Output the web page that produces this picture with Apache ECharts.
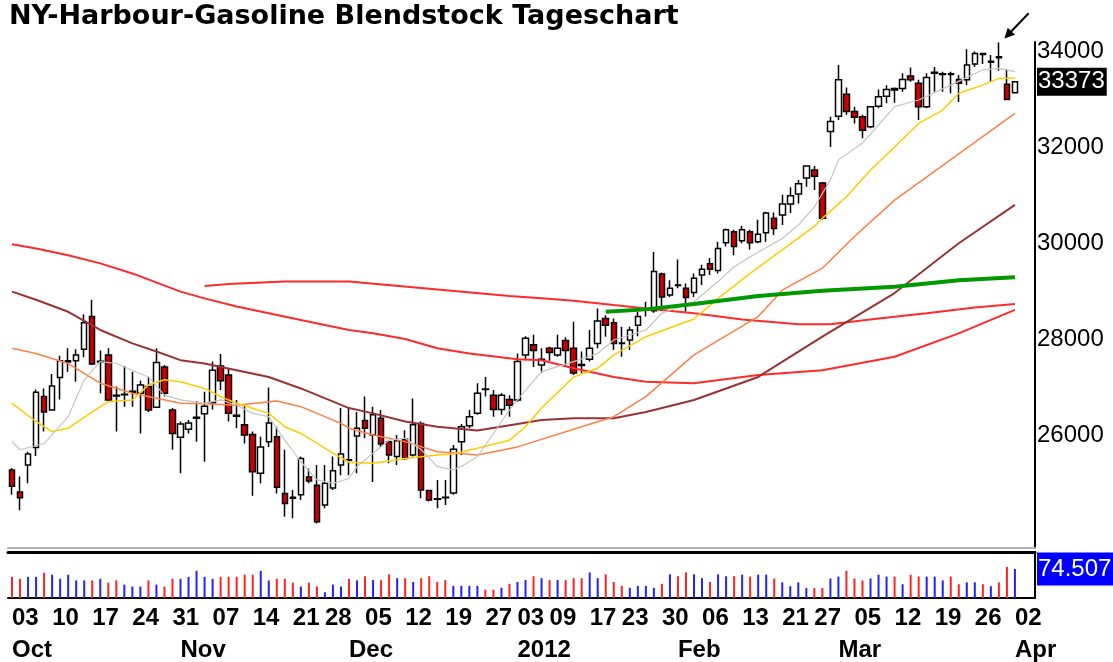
<!DOCTYPE html>
<html>
<head>
<meta charset="utf-8">
<script src="https://cdn.jsdelivr.net/npm/echarts@6/dist/echarts.min.js"></script>
<style>
  html, body { margin: 0; padding: 0; background: #fff; }
  #chart { width: 1113px; height: 662px; }
</style>
</head>
<body>
<div id="chart"></div>
<script>
// trading days: weekdays from first to last, minus exchange holidays (2 empty days pad the right edge)
const firstDay = '2011-10-03'
const lastDay = '2012-04-04'
const holidays = ['2011-11-24', '2011-12-26', '2012-01-02', '2012-01-16', '2012-02-20']
const monthNames = ['2012', 'Feb', 'Mar', 'Apr', 'May', 'Jun', 'Jul', 'Aug', 'Sep', 'Oct', 'Nov', 'Dec']

// daily candles
const opens = [
  25270, 24810, 25370, 25740, 26800, 26520, 27200, 27520, 27550, 27790,
  28470, 27520, 27670, 26830, 26840, 26890, 26870, 27010, 26580, 27420,
  26520, 25950, 26120, 26350, 26440, 26670, 27440, 27250, 26410, 26210,
  26010, 25200, 25860, 25960, 24780, 24700, 24750, 25120, 24950, 24540,
  24890, 25370, 25480, 25980, 26300, 26000, 26350, 25860, 25550, 25910,
  25580, 26240, 24840, 24670, 24700, 24790, 25860, 26190, 26450, 26960,
  26830, 26530, 26740, 26730, 27670, 27880, 27460, 27810, 27670, 27970,
  27810, 27470, 27580, 27910, 28430, 28340, 27920, 27980, 28290, 28610,
  28590, 29360, 28920, 29130, 29060, 28970, 29340, 29570, 29430, 30010,
  30240, 30050, 30240, 30030, 30220, 30520, 30590, 30820, 31030, 31360,
  31530, 31260, 32330, 32650, 33110, 32750, 32640, 32430, 32860, 33070,
  33230, 33230, 33490, 33340, 32850, 33550, 33520, 33540, 33420, 33410,
  33740, 33960, 33780, 33890, 33320, 33140
]
const closes = [
  24930, 24690, 25600, 26890, 26480, 27020, 27550, 27550, 27670, 28340,
  27480, 27540, 26730, 26810, 26850, 26910, 27040, 26520, 27510, 26870,
  26030, 26230, 26250, 26370, 26600, 27350, 27130, 26450, 26390, 26000,
  25230, 25750, 26250, 24910, 24570, 24680, 25510, 25040, 24190, 24990,
  25250, 25600, 25470, 26140, 26140, 26420, 25810, 25580, 25880, 25510,
  26210, 24850, 24640, 24660, 24690, 25700, 26170, 26380, 26870, 26950,
  26530, 26830, 26620, 27530, 28020, 27760, 27580, 27720, 27810, 27760,
  27290, 27450, 27810, 28380, 28290, 27910, 27910, 28190, 28470, 28630,
  29410, 28880, 29060, 29120, 28870, 29270, 29460, 29460, 29890, 30280,
  29930, 30280, 30010, 30190, 30630, 30310, 30820, 30990, 31240, 31610,
  31400, 30520, 32540, 33410, 32750, 32630, 32360, 32850, 33060, 33210,
  33200, 33420, 33410, 32850, 33460, 33570, 33540, 33520, 33340, 33720,
  33960, 33940, 33800, 33870, 33000, 33373
]
const lows = [
  24750, 24430, 24990, 25560, 26070, 26520, 26740, 27320, 27110, 27620,
  27460, 26870, 26690, 26070, 26590, 26590, 26030, 26480, 26560, 26800,
  25690, 25200, 26030, 25860, 25440, 26530, 26940, 26280, 26140, 25820,
  24730, 24990, 25750, 24780, 24290, 24260, 24640, 24990, 24150, 24470,
  24850, 25160, 25160, 25200, 25930, 25020, 25750, 25410, 25370, 25480,
  25550, 24680, 24610, 24470, 24540, 24750, 25580, 26140, 26420, 26800,
  26380, 26420, 26380, 26690, 27560, 27420, 27290, 27550, 27630, 27420,
  27250, 27290, 27530, 27810, 28050, 27770, 27630, 27770, 28060, 28470,
  28550, 28680, 28880, 29060, 28570, 28880, 29130, 29340, 29370, 29930,
  29750, 30000, 29870, 30000, 30030, 30170, 30380, 30630, 30830, 31180,
  31110, 30490, 32010, 32570, 32680, 32500, 32190, 32400, 32820, 32920,
  32930, 33160, 33370, 32570, 32820, 33160, 33160, 33130, 32950, 33300,
  33680, 33740, 33370, 33600, 32990, 33140
]
const highs = [
  25310, 25130, 25650, 26950, 26970, 27270, 27650, 27810, 27790, 28520,
  28820, 27760, 27810, 27010, 27440, 27320, 27130, 27210, 27810, 27460,
  26560, 26280, 26310, 26710, 26900, 27530, 27690, 27390, 26730, 26620,
  26070, 25960, 26990, 26170, 25690, 24850, 25550, 25300, 25370, 25370,
  25550, 26560, 26560, 26480, 26800, 26590, 26520, 25890, 26000, 26100,
  26760, 26280, 24850, 25060, 25060, 25790, 26230, 26520, 27080, 27210,
  26940, 26870, 26830, 27700, 28060, 28090, 27810, 27840, 28090, 28040,
  28360, 27740, 28190, 28640, 28500, 28430, 28260, 28260, 28570, 28780,
  29820, 29390, 29230, 29660, 29160, 29370, 29550, 29690, 30030, 30310,
  30280, 30360, 30280, 30490, 30660, 30640, 31010, 31170, 31320, 31630,
  31610, 31280, 32640, 33720, 33250, 32850, 32680, 32860, 33210, 33300,
  33250, 33550, 33670, 33410, 33550, 33680, 33580, 33580, 33510, 34050,
  34000, 33960, 33930, 34190, 33630, 33373
]
const volumes = [
  54100, 49200, 54100, 54100, 64800, 59800, 49200, 59800, 45100, 45100,
  45100, 49200, 39400, 45100, 34400, 29500, 29500, 45100, 34400, 29500,
  49200, 49200, 54100, 69700, 54100, 49200, 54100, 54100, 54100, 59800,
  59800, 69700, 45100, 49200, 49200, 39400, 29500, 39400, 29500, 14800,
  34400, 29500, 49200, 45100, 55800, 46000, 46000, 60800, 50900, 50900,
  41100, 50900, 55800, 41100, 46000, 31200, 31200, 31200, 31200, 21400,
  21400, 26300, 36200, 41100, 46000, 55800, 50900, 46000, 46000, 46000,
  50900, 50900, 65700, 50900, 60800, 41100, 31200, 26300, 31200, 31200,
  26300, 36200, 60800, 55800, 65700, 60800, 50900, 41100, 60800, 55800,
  55800, 59800, 54900, 59800, 59800, 50000, 40200, 30300, 40200, 25400,
  25400, 25400, 50000, 54900, 69700, 50000, 45100, 50000, 59800, 54900,
  54900, 35300, 59800, 54900, 54900, 54900, 45100, 54900, 35300, 40200,
  40200, 35300, 30300, 40200, 79500, 74507
]

// indicator lines, read at the listed trading-day numbers
const grayAt = [0, 1, 4, 7, 9, 11, 13, 15, 17, 19, 21, 24, 26, 28, 30, 32, 34, 36, 38, 40, 42, 43, 45, 47, 49, 51, 53, 55, 56, 58, 60, 62, 63, 66, 70, 73, 75, 79, 81, 85, 88, 90, 92, 96, 98, 100, 102, 103, 106, 110, 113, 117, 121, 123, 125]
const grayVal = [25860, 25690, 25820, 26380, 27150, 27530, 27490, 27350, 27210, 26830, 26730, 26660, 26730, 26620, 26450, 26380, 25890, 25440, 25060, 24990, 25090, 25340, 25620, 25890, 25930, 25690, 25340, 25270, 25340, 25550, 26030, 26520, 26730, 27320, 27530, 27700, 27980, 28190, 28540, 28780, 29200, 29510, 29720, 30100, 30380, 30760, 31320, 31740, 32090, 32850, 32990, 33300, 33620, 33650, 33580]
const yellowAt = [0, 3, 5, 7, 11, 12, 15, 17, 19, 21, 24, 26, 28, 32, 34, 36, 40, 42, 45, 49, 53, 55, 58, 62, 64, 66, 70, 73, 75, 79, 85, 88, 92, 96, 100, 101, 104, 107, 110, 113, 116, 118, 121, 123, 125]
const yellowVal = [26660, 26280, 26070, 26140, 26590, 26690, 26730, 27040, 27150, 27110, 26970, 26800, 26660, 26450, 26170, 26030, 25620, 25430, 25410, 25510, 25580, 25600, 25720, 25890, 26170, 26560, 27210, 27390, 27670, 28050, 28420, 28850, 29370, 29860, 30350, 30520, 30970, 31530, 32010, 32500, 32780, 33130, 33300, 33440, 33450]
const orangeAt = [0, 3, 7, 11, 15, 21, 24, 28, 33, 36, 41, 42, 45, 49, 53, 58, 63, 70, 75, 79, 85, 93, 96, 101, 105, 110, 125]
const orangeVal = [27810, 27700, 27490, 27080, 26870, 26660, 26650, 26620, 26710, 26590, 26240, 26140, 26000, 25860, 25650, 25580, 25750, 26120, 26380, 26800, 27670, 28470, 29020, 29480, 30140, 30900, 32710]
const brownAt = [0, 3, 7, 11, 15, 18, 21, 24, 28, 32, 36, 42, 45, 49, 53, 58, 63, 66, 70, 75, 79, 85, 93, 101, 110, 118, 125]
const brownVal = [28990, 28820, 28570, 28190, 27910, 27740, 27560, 27490, 27350, 27210, 26970, 26560, 26450, 26280, 26170, 26090, 26230, 26310, 26350, 26350, 26480, 26730, 27210, 28050, 28960, 30000, 30800]
const redAAt = [0, 3, 7, 11, 15, 21, 24, 28, 32, 36, 42, 45, 49, 53, 57, 63, 66, 70, 75, 79, 85, 93, 101, 110, 118, 125]
const redAVal = [29980, 29890, 29750, 29580, 29370, 28990, 28850, 28680, 28540, 28400, 28190, 28120, 28000, 27810, 27700, 27580, 27560, 27390, 27210, 27110, 27080, 27250, 27350, 27630, 28120, 28610]
const redBAt = [24, 27, 34, 42, 62, 66, 70, 75, 79, 85, 91, 98, 102, 108, 114, 120, 125]
const redBVal = [29110, 29150, 29200, 29200, 28900, 28850, 28800, 28710, 28640, 28540, 28410, 28310, 28310, 28430, 28540, 28660, 28730]
const greenAt = [74, 79, 85, 93, 101, 110, 118, 125]
const greenVal = [28570, 28620, 28730, 28900, 29010, 29090, 29230, 29290]

const priceTicks = [26000, 28000, 30000, 32000, 34000]
const arrowDay = 123

// ---- build categories
const dates = []
for (let t = Date.parse(firstDay + 'T00:00:00Z'); t <= Date.parse(lastDay + 'T00:00:00Z'); t += 86400000) {
  const d = new Date(t)
  const s = d.toISOString().slice(0, 10)
  if (d.getUTCDay() === 0 || d.getUTCDay() === 6) continue
  if (holidays.includes(s)) continue
  dates.push(s)
}
const dow = s => new Date(s + 'T00:00:00Z').getUTCDay()
const isWeekStart = i => i < opens.length && (i === 0 || dow(dates[i]) < dow(dates[i - 1]))
const isMonthStart = i => i < opens.length && (i === 0 || dates[i].slice(5, 7) !== dates[i - 1].slice(5, 7))
const fmtDE = v => String(Math.round(v)).replace(/\B(?=(\d{3})+(?!\d))/g, '.')

const candles = opens.map((o, i) => [o, closes[i], lows[i], highs[i]])
const volData = volumes.map((v, i) => ({
  value: v,
  itemStyle: { color: closes[i] >= opens[i] ? '#2222ff' : '#ff2222' }
}))
const pts = (at, val) => at.map((d, k) => [dates[d], val[k]])

const lineSeries = (name, at, val, color, width) => ({
  name: name,
  type: 'line',
  xAxisIndex: 0,
  yAxisIndex: 0,
  data: pts(at, val),
  symbol: 'none',
  silent: true,
  lineStyle: { color: color, width: width }
})

const chart = echarts.init(document.getElementById('chart'))
const axisFont = 'Liberation Sans, Arial, sans-serif'

chart.setOption({
  animation: false,
  backgroundColor: '#fff',
  title: {
    text: 'NY-Harbour-Gasoline Blendstock Tageschart',
    left: 9,
    top: 3,
    padding: 0,
    textStyle: { fontFamily: 'DejaVu Sans', fontWeight: 'bold', fontSize: 27, color: '#000' }
  },
  grid: [
    { left: 8, right: 78, top: 42, bottom: 114 },
    { left: 8, right: 78, top: 552, bottom: 61 }
  ],
  xAxis: [
    {
      gridIndex: 0, type: 'category', data: dates, boundaryGap: true,
      axisLine: { show: true, onZero: false, lineStyle: { color: '#b4b4b4', width: 2 } },
      axisTick: { show: false }, axisLabel: { show: false }, splitLine: { show: false }
    },
    {
      gridIndex: 1, type: 'category', data: dates, boundaryGap: true, position: 'bottom',
      axisLine: { show: true, onZero: false, lineStyle: { color: '#000', width: 2 } },
      axisTick: { show: false },
      axisLabel: {
        interval: i => isWeekStart(i),
        formatter: v => v.slice(8, 10),
        align: 'left', margin: 8,
        fontFamily: axisFont, fontWeight: 'bold', fontSize: 24, color: '#000'
      }
    },
    {
      gridIndex: 1, type: 'category', data: dates, boundaryGap: true, position: 'bottom',
      axisLine: { show: false }, axisTick: { show: false },
      axisLabel: {
        interval: i => isMonthStart(i),
        formatter: v => monthNames[+v.slice(5, 7) - 1],
        align: 'left', margin: 40,
        fontFamily: axisFont, fontWeight: 'bold', fontSize: 24, color: '#000'
      }
    },
    {
      gridIndex: 1, type: 'category', data: dates, boundaryGap: true, position: 'top',
      axisLine: { show: true, onZero: false, lineStyle: { color: '#000', width: 3 } },
      axisTick: { show: false }, axisLabel: { show: false }
    }
  ],
  yAxis: [
    {
      gridIndex: 0, type: 'value', position: 'right', min: 23640, max: 34200, scale: true,
      axisLine: { show: true, onZero: false, lineStyle: { color: '#000', width: 2 } },
      axisTick: { show: false }, splitLine: { show: false },
      axisLabel: {
        customValues: priceTicks, margin: 2,
        formatter: v => String(v),
        fontFamily: axisFont, fontSize: 24, color: '#000'
      }
    },
    {
      gridIndex: 1, type: 'value', position: 'right', min: 0, max: 118000,
      axisLine: { show: true, onZero: false, lineStyle: { color: '#000', width: 2 } },
      axisTick: { show: false }, splitLine: { show: false }, axisLabel: { show: false }
    }
  ],
  series: [
    lineSeries('MA long 2', redBAt, redBVal, '#ff2a2a', 2),
    lineSeries('MA long', redAAt, redAVal, '#ff2a2a', 2),
    lineSeries('MA 100', brownAt, brownVal, '#993333', 2),
    lineSeries('MA 40', orangeAt, orangeVal, '#ff7f45', 1.5),
    lineSeries('MA 20', yellowAt, yellowVal, '#ffcc00', 1.5),
    lineSeries('MA 5', grayAt, grayVal, '#c4c4c4', 1.2),
    lineSeries('Trend', greenAt, greenVal, '#009900', 4),
    {
      name: 'Kurs',
      type: 'candlestick',
      xAxisIndex: 0,
      yAxisIndex: 0,
      data: candles,
      barWidth: 6,
      itemStyle: {
        color: '#ffffff', color0: '#cc0000',
        borderColor: '#000', borderColor0: '#000', borderWidth: 1.5
      },
      markLine: {
        silent: true,
        symbol: ['none', 'none'],
        lineStyle: { color: 'rgba(0,0,0,0)', width: 1 },
        label: {
          position: 'end', distance: 2,
          formatter: p => String(p.value),
          backgroundColor: '#000', color: '#fff',
          fontFamily: axisFont, fontSize: 24, padding: [3, 2, 1, 1]
        },
        data: [{ yAxis: closes[closes.length - 1] }]
      },
      markPoint: {
        silent: true,
        data: [{
          coord: [dates[arrowDay], highs[arrowDay]],
          symbol: 'path://M0 25 L3.3 14.3 L6.2 17.1 L23.3 -0.7 L24.7 0.7 L7.6 18.5 L10.5 21.3 Z',
          symbolSize: [25, 26],
          symbolOffset: [18, -17],
          itemStyle: { color: '#000' },
          label: { show: false }
        }]
      }
    },
    {
      name: 'Volumen',
      type: 'bar',
      xAxisIndex: 1,
      yAxisIndex: 1,
      data: volData,
      barWidth: 2,
      markLine: {
        silent: true,
        symbol: ['none', 'none'],
        lineStyle: { color: 'rgba(0,0,0,0)', width: 1 },
        label: {
          position: 'end', distance: 2,
          formatter: p => fmtDE(p.value),
          backgroundColor: '#0000ff', color: '#fff',
          fontFamily: axisFont, fontSize: 24, padding: [5, 2, 4, 1]
        },
        data: [{ yAxis: volumes[volumes.length - 1] }]
      }
    }
  ]
})
</script>
</body>
</html>
